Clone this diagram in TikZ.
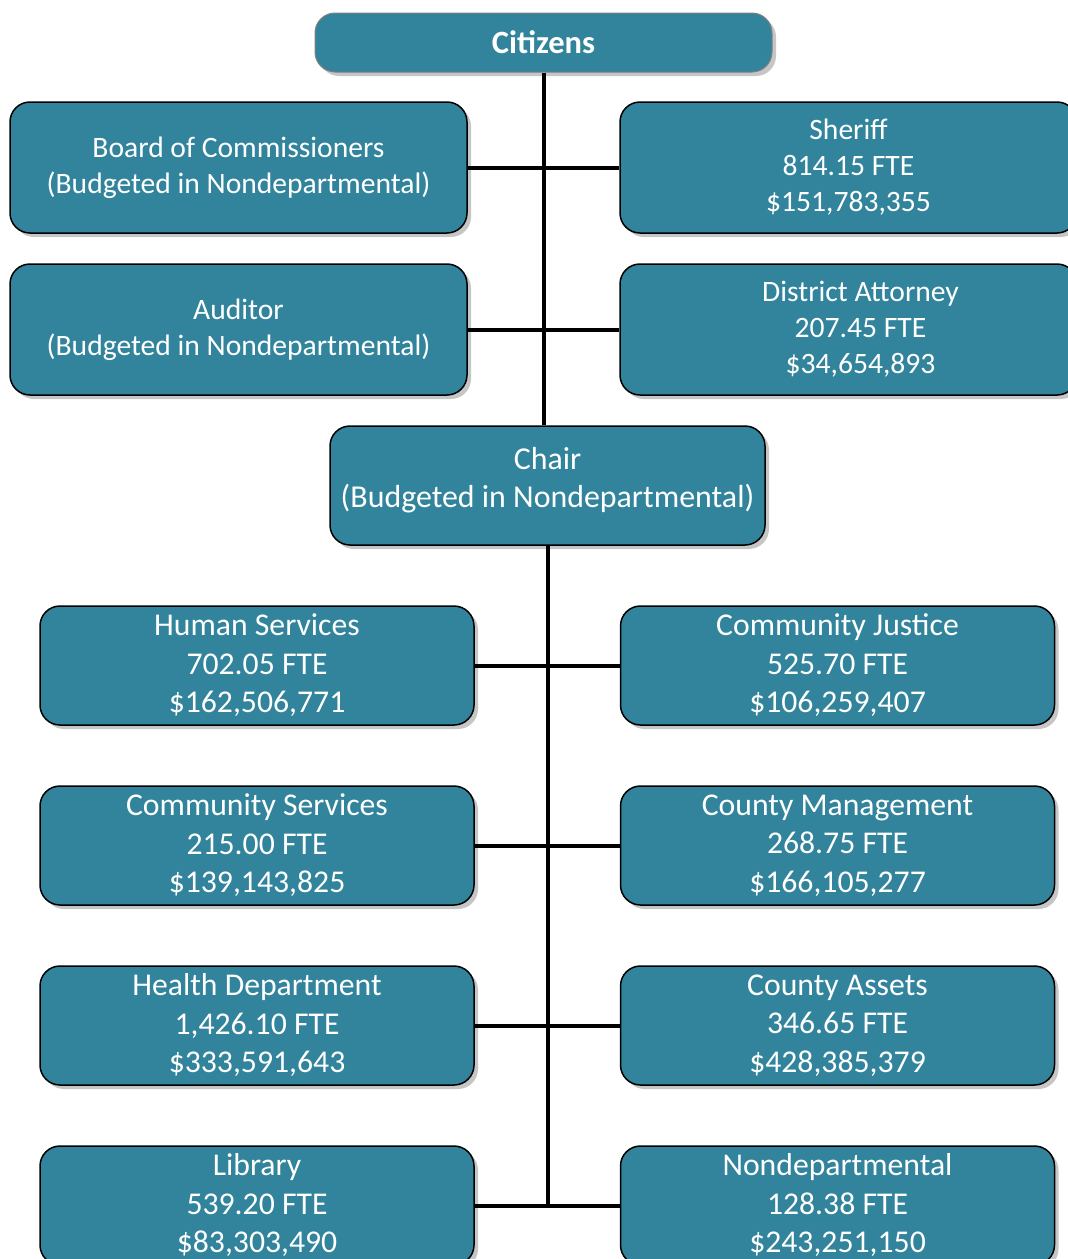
\documentclass[tikz,border=0pt]{standalone}
\usepackage{fontspec}
\setmainfont{Carlito}
\usetikzlibrary{shadows}
\definecolor{orgteal}{RGB}{49,132,155}
\tikzstyle{unit}=[draw=black,line width=1.5pt,fill=orgteal,text=white,rounded corners=20pt,align=center,inner sep=0pt,drop shadow={shadow xshift=4pt,shadow yshift=-4pt,opacity=0.45}]
\tikzstyle{topunit}=[unit,minimum width=457pt,minimum height=131pt,font=\fontsize{29.6}{36}\selectfont]
\tikzstyle{dept}=[unit,minimum width=434pt,minimum height=119pt,font=\fontsize{31.7}{38.5}\selectfont]
\tikzstyle{link}=[line width=4pt]

\begin{document}
\begin{tikzpicture}[x=1pt, y=-1pt]
	\clip (0,0) rectangle (1068,1259);
	%top
	\node[unit, draw=gray, line width=1pt, minimum width=457pt, minimum height=59pt, font=\fontsize{32.5}{36}\selectfont\bfseries] (cit) at (543.5,42.5) {Citizens};
	\node[topunit] (board) at (238.5,167.5) {Board of Commissioners\\(Budgeted in Nondepartmental)};
	\node[topunit] (sheriff) at (848.5,167.5) {Sheriff\\814.15 FTE\\\$151,783,355};
	\node[topunit] (auditor) at (238.5,329.5) {Auditor\\(Budgeted in Nondepartmental)};
	\node[topunit] (da) at (848.5,329.5) {\hspace*{24pt}District Attorney\\\hspace*{24pt}207.45 FTE\\\hspace*{24pt}\$34,654,893};
	\node[unit, minimum width=435pt, minimum height=119pt, font=\fontsize{31.9}{38}\selectfont] (chair) at (547.5,485.5) {Chair\\(Budgeted in Nondepartmental)\\[-22pt]};
	%departments
	\node[dept] (hs) at (257,665.5) {Human Services\\702.05 FTE\\\$162,506,771};
	\node[dept] (cj) at (837.5,665.5) {Community Justice\\525.70 FTE\\\$106,259,407};
	\node[dept] (cs) at (257,845.5) {Community Services\\215.00 FTE\\\$139,143,825};
	\node[dept] (cm) at (837.5,845.5) {County Management\\268.75 FTE\\\$166,105,277};
	\node[dept] (hd) at (257,1025.5) {Health Department\\1,426.10 FTE\\\$333,591,643};
	\node[dept] (ca) at (837.5,1025.5) {County Assets\\346.65 FTE\\\$428,385,379};
	\node[dept] (lib) at (257,1205.5) {Library\\539.20 FTE\\\$83,303,490};
	\node[dept] (nd) at (837.5,1205.5) {Nondepartmental\\128.38 FTE\\\$243,251,150};
	%lines
	\draw[link] (cit.south) -- (cit.south |- chair.north);
	\draw[link] (board.east) -- (sheriff.west);
	\draw[link] (auditor.east) -- (da.west);
	\draw[link] (chair.south) -- (chair.south |- lib.east);
	\draw[link] (hs.east) -- (cj.west);
	\draw[link] (cs.east) -- (cm.west);
	\draw[link] (hd.east) -- (ca.west);
	\draw[link] (lib.east) -- (nd.west);
\end{tikzpicture}
\end{document}
